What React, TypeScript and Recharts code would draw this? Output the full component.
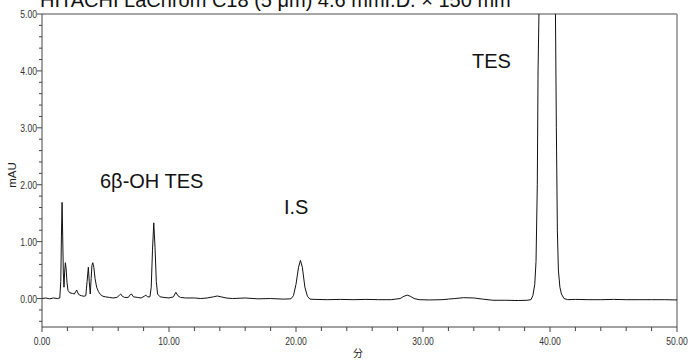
import { LineChart, Line, XAxis, YAxis, ReferenceLine, Customized } from "recharts";

// retention time (min) and detector signal (mAU)
const retentionTimes = [
  0.0, 0.3, 0.6, 0.9, 1.2, 1.4,
  1.48, 1.53, 1.58, 1.63, 1.68, 1.73, 1.78, 1.84, 1.9, 1.97, 2.05,
  2.2, 2.4, 2.55, 2.65, 2.73, 2.82, 2.95, 3.1, 3.3, 3.45,
  3.55, 3.65, 3.72, 3.8, 3.87, 3.93, 4.0, 4.08, 4.18, 4.3, 4.45, 4.6, 4.8,
  5.0, 5.3, 5.6, 5.9, 6.1, 6.2, 6.32, 6.5, 6.8, 6.95, 7.05, 7.2, 7.5, 7.8,
  8.05, 8.18, 8.3, 8.5, 8.6, 8.7, 8.8, 8.9, 9.0, 9.1, 9.3, 9.6,
  10.0, 10.35, 10.54, 10.7, 10.9, 11.3, 12.0, 12.5, 13.0, 13.5, 13.8, 14.1, 14.5,
  15.0, 16.0, 17.0, 18.0, 19.0, 19.6,
  19.8, 20.0, 20.2, 20.35, 20.5, 20.7, 20.9, 21.1,
  21.5, 22.5, 23.5, 24.5, 25.5, 26.5, 27.5,
  28.2, 28.5, 28.76, 29.0, 29.3, 29.7,
  30.5, 31.5, 32.0, 32.5, 33.2, 34.0, 34.7, 35.5, 36.5, 37.5, 38.2,
  38.5, 38.65, 38.8, 38.9, 39.0, 39.06, 39.15, 39.3, 39.5, 39.8, 40.1, 40.35,
  40.43, 40.5, 40.58, 40.66, 40.78, 40.9, 41.1,
  41.4, 42.0, 43.0, 44.0, 45.0, 46.0, 47.0, 48.0, 49.0, 50.0,
];

const absorbance = [
  0.0, 0.01, -0.005, 0.01, 0.0, 0.01,
  0.3, 1.1, 1.69, 1.1, 0.45, 0.2, 0.45, 0.63, 0.52, 0.28, 0.14,
  0.1, 0.09, 0.08, 0.12, 0.15, 0.1, 0.06, 0.05, 0.04, 0.05,
  0.3, 0.55, 0.3, 0.08, 0.35, 0.58, 0.63, 0.55, 0.35, 0.2, 0.12, 0.07, 0.04,
  0.03, 0.02, 0.01, 0.02, 0.06, 0.08, 0.04, 0.02, 0.02, 0.07, 0.08, 0.03, 0.02, 0.01,
  0.04, 0.06, 0.03, 0.03, 0.2, 0.85, 1.33, 0.9, 0.3, 0.08, 0.03, 0.02,
  0.01, 0.03, 0.11, 0.05, 0.02, 0.01, 0.01, 0.0, 0.01, 0.03, 0.045, 0.03, 0.01,
  0.0, 0.01, -0.005, 0.0, -0.01, -0.005,
  0.05, 0.25, 0.55, 0.67, 0.55, 0.2, 0.04, -0.01,
  -0.015, -0.02, -0.015, -0.02, -0.015, -0.02, -0.02,
  0.0, 0.04, 0.06, 0.04, 0.0, -0.02,
  -0.025, -0.02, -0.01, 0.0, 0.015, 0.01, -0.01, -0.03, -0.03, -0.035, -0.03,
  -0.02, 0.05, 0.25, 0.65, 2.0, 4.0, 5.3, 10.0, 15.0, 18.0, 14.0, 8.0,
  5.0, 3.0, 1.2, 0.5, 0.2, 0.08, 0.0,
  -0.02, -0.015, -0.02, -0.02, -0.015, -0.02, -0.02, -0.02, -0.02, -0.025,
];

const xTicks = [0, 2, 4, 6, 8, 10, 12, 14, 16, 18, 20, 22, 24, 26, 28, 30, 32, 34, 36, 38, 40, 42, 44, 46, 48, 50];
const xMajor = [0, 10, 20, 30, 40, 50];
const yTicks = [
  -0.4, -0.2, 0, 0.2, 0.4, 0.6, 0.8, 1, 1.2, 1.4, 1.6, 1.8, 2, 2.2, 2.4, 2.6, 2.8,
  3, 3.2, 3.4, 3.6, 3.8, 4, 4.2, 4.4, 4.6, 4.8, 5,
];
const yMajor = [0, 1, 2, 3, 4, 5];

const peakLabels = [
  { text: "6β-OH TES", x: 100, y: 188 },
  { text: "I.S", x: 284, y: 214 },
  { text: "TES", x: 472, y: 68 },
];

const chartData = retentionTimes.map((t, i) => ({ t, v: absorbance[i] }));

const PLOT_LEFT = 42;
const PLOT_BOTTOM = 327;
const AXIS_COLOR = "#444";
const FRAME_COLOR = "#888";
const sansFont = "'Liberation Sans', Arial, sans-serif";

// tick labels in the original use a condensed face, so squeeze Liberation Sans horizontally
const NarrowText = ({ x, y, anchor, children }: any) => (
  <text
    transform={`translate(${x},${y}) scale(0.78,1)`}
    textAnchor={anchor}
    fontSize={11}
    fontFamily={sansFont}
    fill="#333"
  >
    {children}
  </text>
);

const XTick = (props: any) => {
  const { x, payload } = props;
  const major = xMajor.includes(payload.value);
  return (
    <g>
      <line x1={x} x2={x} y1={PLOT_BOTTOM} y2={PLOT_BOTTOM + (major ? 5 : 4)} stroke={AXIS_COLOR} />
      {major && (
        <NarrowText x={x} y={PLOT_BOTTOM + 18} anchor="middle">
          {payload.value.toFixed(2)}
        </NarrowText>
      )}
    </g>
  );
};

const YTick = (props: any) => {
  const { y, payload } = props;
  const major = yMajor.includes(payload.value);
  return (
    <g>
      <line x1={major ? PLOT_LEFT - 5 : PLOT_LEFT - 3} x2={PLOT_LEFT} y1={y} y2={y} stroke={AXIS_COLOR} />
      {major && (
        <NarrowText x={PLOT_LEFT - 5} y={y + 4} anchor="end">
          {payload.value.toFixed(2)}
        </NarrowText>
      )}
    </g>
  );
};

const Annotations = () => (
  <g>
    <text x={40} y={7} fontSize={20} fontFamily={sansFont} fill="#111">
      HITACHI LaChrom C18 (5 μm) 4.6 mmI.D. × 150 mm
    </text>
    {peakLabels.map((p) => (
      <text key={p.text} x={p.x} y={p.y} fontSize={20} fontFamily={sansFont} fill="#111">
        {p.text}
      </text>
    ))}
    <text
      x={13}
      y={175}
      transform="rotate(-90 13 175)"
      textAnchor="middle"
      dominantBaseline="middle"
      fontSize={11.5}
      fontFamily={sansFont}
      fill="#222"
    >
      mAU
    </text>
    <text x={358} y={357} textAnchor="middle" fontSize={10} fontFamily="'Noto Sans CJK JP', sans-serif" fill="#222">
      分
    </text>
  </g>
);

export default function App() {
  return (
    <div style={{ position: "absolute", left: 0, top: 0, background: "#fff" }}>
      <LineChart width={688} height={360} data={chartData} margin={{ top: 14, right: 11, bottom: 0, left: 0 }}>
        <XAxis
          dataKey="t"
          type="number"
          domain={[0, 50]}
          ticks={xTicks}
          interval={0}
          allowDataOverflow
          height={33}
          tickLine={false}
          axisLine={{ stroke: AXIS_COLOR }}
          tick={<XTick />}
        />
        <YAxis
          type="number"
          domain={[-0.5, 5]}
          ticks={yTicks}
          interval={0}
          allowDataOverflow
          width={42}
          tickLine={false}
          axisLine={{ stroke: AXIS_COLOR }}
          tick={<YTick />}
        />
        <ReferenceLine y={5} stroke={FRAME_COLOR} strokeWidth={1.5} />
        <ReferenceLine x={50} stroke={FRAME_COLOR} strokeWidth={1.5} />
        <Line
          type="linear"
          dataKey="v"
          stroke="#111"
          strokeWidth={1}
          dot={false}
          isAnimationActive={false}
        />
        <Customized component={Annotations} />
      </LineChart>
    </div>
  );
}
